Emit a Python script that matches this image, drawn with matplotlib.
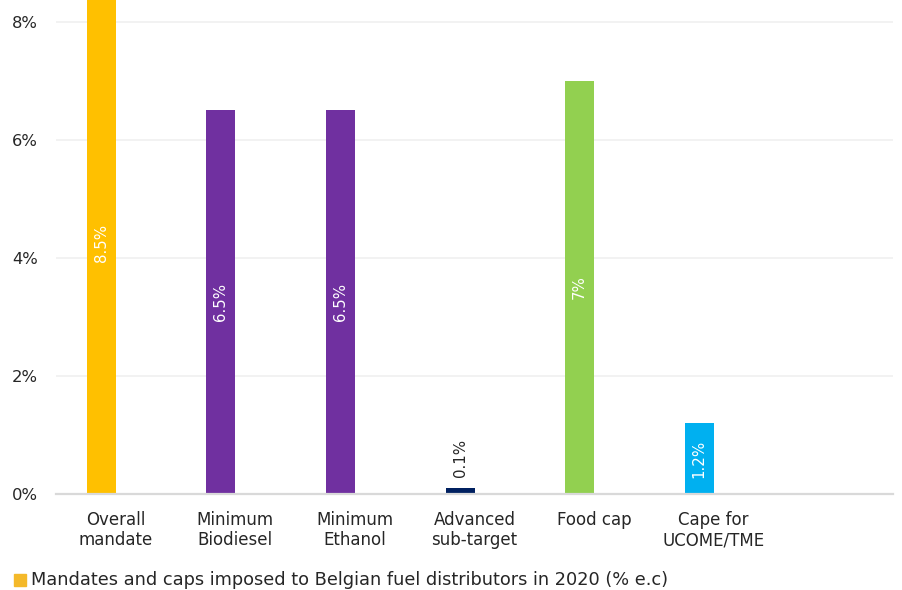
import matplotlib
matplotlib.use("Agg")
import matplotlib.pyplot as plt
from matplotlib.patches import Rectangle

categories = ["Overall\nmandate", "Minimum\nBiodiesel", "Minimum\nEthanol",
              "Advanced\nsub-target", "Food cap", "Cape for\nUCOME/TME", ""]
values = [8.5, 6.5, 6.5, 0.1, 7.0, 1.2, None]
labels = ["8.5%", "6.5%", "6.5%", "0.1%", "7%", "1.2%", ""]
colors = ["#FFC000", "#7030A0", "#7030A0", "#002060", "#92D050", "#00B0F0", "#FFFFFF"]
yticks = [0, 2, 4, 6, 8]
ytick_labels = ["0%", "2%", "4%", "6%", "8%"]
legend_label = "Mandates and caps imposed to Belgian fuel distributors in 2020 (% e.c)"

plt.rcParams['font.family'] = ['DejaVu Sans']

W, H = 902, 590
fig = plt.figure(figsize=(W/100, H/100), dpi=100)
ax = fig.add_axes([56/W, (H-494)/H, (893-56)/W, 494/H])

bw = 0.242
xs = list(range(len(categories)))
for i, v in enumerate(values):
    if v is None:
        continue
    ax.bar(i - bw/2, v, width=bw, color=colors[i], zorder=3)
    if v > 1:
        ax.text(i - bw/2, v/2, labels[i], rotation=90, ha='center', va='center',
                color='white', fontsize=10.8, zorder=4)
    else:
        ax.text(i - bw/2, v + 0.18, labels[i], rotation=90, ha='center', va='bottom',
                color='#262626', fontsize=10.8, zorder=4)

ax.set_xlim(-0.5, len(categories) - 0.5)
ax.set_ylim(0, 8.37)
ax.set_yticks(yticks)
ax.set_yticklabels(ytick_labels, fontsize=11.8, color='#262626')
ax.set_xticks(xs)
ax.set_xticklabels(categories, fontsize=12, color='#262626', linespacing=1.2)
ax.tick_params(axis='both', length=0)
ax.tick_params(axis='y', pad=13)
ax.tick_params(axis='x', pad=12)
ax.grid(axis='y', color='#F0F0F0', linewidth=1.2, zorder=0)
for s in ['top', 'right', 'left']:
    ax.spines[s].set_visible(False)
ax.spines['bottom'].set_color('#D9D9D9')
ax.spines['bottom'].set_linewidth(1.6)
ax.spines['bottom'].set_zorder(5)

fig.patches.append(Rectangle((14/W, (H-586)/H), 12/W, 12/H, transform=fig.transFigure,
                             color='#F4B92A'))
fig.text(31/W, (H-580)/H, legend_label, fontsize=12.8, color='#262626', va='center', ha='left')

fig.savefig("out.png", dpi=100)
